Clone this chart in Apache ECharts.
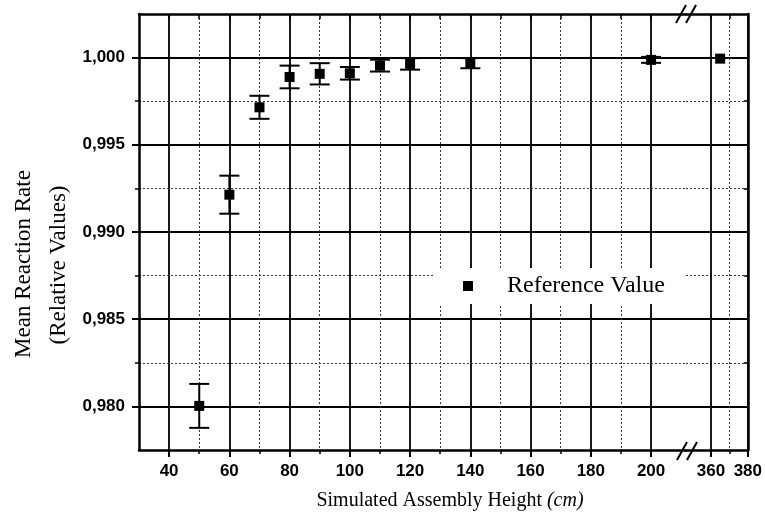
<!DOCTYPE html>
<html><head><meta charset="utf-8">
<script src="https://cdn.jsdelivr.net/npm/echarts@6/dist/echarts.min.js"></script>
<style>html,body{margin:0;padding:0;background:#fff}#c{width:765px;height:522px}</style>
</head><body><div id="c"></div>
<script>
// ---- data ----
const heights   = [50, 60, 70, 80, 90, 100, 110, 120, 140, 200, 365];
const meanRate  = [0.98003, 0.99214, 0.99715, 0.99889, 0.99907, 0.99910, 0.99954, 0.99964, 0.99968, 0.99987, 0.99994];
const rateError = [0.00126, 0.00109, 0.00066, 0.00065, 0.00061, 0.00036, 0.00034, 0.00033, 0.00029, 0.00017, 0];
const xMajorLeft  = [40, 60, 80, 100, 120, 140, 160, 180, 200];
const xMinorLeft  = [50, 70, 90, 110, 130, 150, 170, 190];
const xMajorRight = [360, 380];
const xMinorRight = [370];
const yMajor = [0.980, 0.985, 0.990, 0.995, 1.000];
const yMinor = [0.9825, 0.9875, 0.9925, 0.9975];
const xRangeLeft  = [30, 211.6];
const xRangeRight = [346.5, 380];
const yRange = [0.9775, 1.0025];
const seriesName = 'Reference Value';

// ---- build ----
const rows = heights.map((h, i) => [h, meanRate[i], rateError[i]]);
const leftRows = rows.filter(r => r[0] <= xRangeLeft[1]);
const rightRows = rows.filter(r => r[0] >= xRangeRight[0]);

const BLACK = '#000';
const frameW = 2.5;
const solidGrid = {show: true, lineStyle: {color: '#000', width: 1.8}};
const dottedGrid = {show: true, lineStyle: {color: '#333', width: 1, type: [2, 2]}};
const tickFont = {fontFamily: 'Liberation Sans', fontWeight: 'bold', fontSize: 17, color: BLACK};

function xAx(grid, range, pos, ticks, opts) {
  return Object.assign({
    gridIndex: grid, type: 'value', position: pos, min: range[0], max: range[1],
    axisLine: {show: false, onZero: false},
    axisTick: {show: true, customValues: ticks, length: 4, lineStyle: {color: BLACK, width: 1.5}},
    axisLabel: {show: false},
    splitLine: {show: false}
  }, opts);
}
function yAx(grid, pos, ticks, opts) {
  return Object.assign({
    gridIndex: grid, type: 'value', position: pos, min: yRange[0], max: yRange[1],
    axisLine: {show: false, onZero: false},
    axisTick: {show: true, customValues: ticks, length: 4, lineStyle: {color: BLACK, width: 1.5}},
    axisLabel: {show: false},
    splitLine: {show: false}
  }, opts);
}
const axisLineOn = {show: true, onZero: false, lineStyle: {color: BLACK, width: frameW}};

function errRender(params, api) {
  const x = api.value(0), v = api.value(1), e = api.value(2);
  if (!e) return null;
  const t = api.coord([x, v + e]), b = api.coord([x, v - e]);
  const w = 10;
  const style = {stroke: BLACK, lineWidth: 2};
  return {type: 'group', children: [
    {type: 'line', shape: {x1: t[0], y1: t[1], x2: b[0], y2: b[1]}, style},
    {type: 'line', shape: {x1: t[0] - w, y1: t[1], x2: t[0] + w, y2: t[1]}, style},
    {type: 'line', shape: {x1: b[0] - w, y1: b[1], x2: b[0] + w, y2: b[1]}, style}
  ]};
}

function breakMark(cx, cy) {
  return {type: 'group', x: cx, y: cy, z: 100, children: [
    {type: 'polygon', shape: {points: [[-9, 9], [1, -9], [9, -9], [-1, 9]]}, style: {fill: '#fff'}},
    {type: 'line', shape: {x1: -10, y1: 9, x2: 0, y2: -9}, style: {stroke: BLACK, lineWidth: 2}},
    {type: 'line', shape: {x1: 0, y1: 9, x2: 10, y2: -9}, style: {stroke: BLACK, lineWidth: 2}}
  ]};
}

const chart = echarts.init(document.getElementById('c'), null, {renderer: 'canvas'});
chart.setOption({
  backgroundColor: '#fff',
  animation: false,
  grid: [
    {left: 139, top: 14, width: 547, height: 436},
    {left: 686, top: 14, width: 62, height: 436}
  ],
  xAxis: [
    xAx(0, xRangeLeft, 'bottom', xMajorLeft, {
      axisLine: axisLineOn,
      axisTick: {show: true, customValues: xMajorLeft, length: 7, lineStyle: {color: BLACK, width: 2}},
      axisLabel: Object.assign({show: true, customValues: xMajorLeft, margin: 13}, tickFont),
      splitLine: solidGrid
    }),
    xAx(0, xRangeLeft, 'bottom', xMinorLeft, {splitLine: dottedGrid}),
    xAx(0, xRangeLeft, 'top', xMajorLeft.concat(xMinorLeft), {
      axisLine: axisLineOn,
      axisTick: {show: true, inside: true, customValues: xMajorLeft.concat(xMinorLeft), length: 5, lineStyle: {color: BLACK, width: 1.5}}
    }),
    xAx(1, xRangeRight, 'bottom', xMajorRight, {
      axisLine: axisLineOn,
      axisTick: {show: true, customValues: xMajorRight, length: 7, lineStyle: {color: BLACK, width: 2}},
      axisLabel: Object.assign({show: true, customValues: xMajorRight, margin: 13, showMaxLabel: true}, tickFont),
      splitLine: solidGrid
    }),
    xAx(1, xRangeRight, 'bottom', xMinorRight, {splitLine: dottedGrid}),
    xAx(1, xRangeRight, 'top', xMajorRight.concat(xMinorRight), {
      axisLine: axisLineOn,
      axisTick: {show: true, inside: true, customValues: xMajorRight.concat(xMinorRight), length: 5, lineStyle: {color: BLACK, width: 1.5}}
    })
  ],
  yAxis: [
    yAx(0, 'left', yMajor, {
      axisLine: axisLineOn,
      axisTick: {show: true, customValues: yMajor, length: 7, lineStyle: {color: BLACK, width: 2}},
      axisLabel: Object.assign({show: true, customValues: yMajor, margin: 14,
        formatter: v => v.toFixed(3).replace('.', ',')}, tickFont),
      splitLine: solidGrid
    }),
    yAx(0, 'left', yMinor, {splitLine: dottedGrid}),
    yAx(1, 'right', yMajor, {
      axisLine: axisLineOn,
      axisTick: {show: true, inside: true, customValues: yMajor, length: 5, lineStyle: {color: BLACK, width: 1.5}},
      splitLine: solidGrid
    }),
    yAx(1, 'right', yMinor, {
      axisTick: {show: true, inside: true, customValues: yMinor, length: 4, lineStyle: {color: BLACK, width: 1.5}},
      splitLine: dottedGrid
    })
  ],
  legend: {
    data: [seriesName],
    left: 435, top: 268,
    orient: 'horizontal',
    backgroundColor: '#fff',
    padding: [6, 20, 6, 28],
    itemWidth: 10, itemHeight: 10,
    icon: 'rect',
    selectedMode: false,
    itemStyle: {opacity: 1, color: BLACK},
    textStyle: {fontFamily: 'Liberation Serif', fontSize: 24, color: BLACK, padding: [0, 0, 0, 29]}
  },
  series: [
    {name: seriesName, type: 'scatter', xAxisIndex: 0, yAxisIndex: 0, symbol: 'rect', symbolSize: 10,
      itemStyle: {color: BLACK, opacity: 1}, data: leftRows.map(r => [r[0], r[1]]), z: 5},
    {name: seriesName, type: 'scatter', xAxisIndex: 3, yAxisIndex: 2, symbol: 'rect', symbolSize: 10,
      itemStyle: {color: BLACK, opacity: 1}, data: rightRows.map(r => [r[0], r[1]]), z: 5},
    {name: 'err-left', type: 'custom', xAxisIndex: 0, yAxisIndex: 0, renderItem: errRender,
      encode: {x: 0, y: 1}, data: leftRows, z: 4},
    {name: 'err-right', type: 'custom', xAxisIndex: 3, yAxisIndex: 2, renderItem: errRender,
      encode: {x: 0, y: 1}, data: rightRows, z: 4}
  ],
  graphic: [
    {type: 'text', x: 24, y: 264, rotation: Math.PI / 2,
      style: {text: 'Mean Reaction Rate', font: '23px "Liberation Serif"', fill: BLACK,
        align: 'center', verticalAlign: 'middle', textAlign: 'center', textVerticalAlign: 'middle'}},
    {type: 'text', x: 59, y: 265, rotation: Math.PI / 2,
      style: {text: '(Relative Values)', font: '23px "Liberation Serif"', fill: BLACK,
        align: 'center', verticalAlign: 'middle', textAlign: 'center', textVerticalAlign: 'middle'}},
    {type: 'text', x: 450, y: 501,
      style: {text: '{a|Simulated Assembly Height }{b|(cm)}', align: 'center', verticalAlign: 'middle',
        textAlign: 'center', textVerticalAlign: 'middle',
        rich: {a: {fontFamily: 'Liberation Serif', fontSize: 20, fill: BLACK, color: BLACK},
               b: {fontFamily: 'Liberation Serif', fontSize: 20, fontStyle: 'italic', fill: BLACK, color: BLACK}}}},
    breakMark(686, 14),
    breakMark(687, 451)
  ]
});
</script></body></html>
